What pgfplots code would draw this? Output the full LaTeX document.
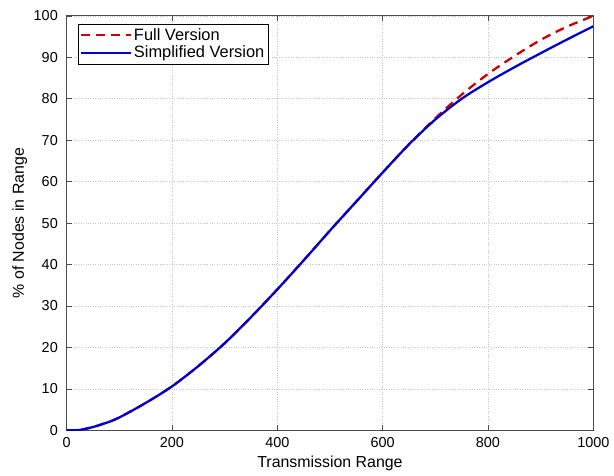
\documentclass[border=0pt]{standalone}
\usepackage{pgfplots}
\pgfplotsset{compat=1.18}
\usepackage{fontspec}
\setmainfont{Liberation Sans}
\begin{document}
\fontsize{14}{16}\selectfont
\begin{tikzpicture}
\begin{axis}[
  scale only axis,
  width=530pt, height=417pt,
  xmin=0, xmax=1000, ymin=0, ymax=100,
  xtick={0,200,...,1000}, ytick={0,10,...,100},
  /pgf/number format/assume math mode=true,
  /pgf/number format/set thousands separator={},
  ticklabel style={font=\fontsize{14.5}{16}\selectfont},
  xticklabel style={yshift=-2pt},
  yticklabel style={xshift=-4pt},
  scaled x ticks=false,
  tick align=inside,
  major tick length=5pt,
  tick style={gray!60!black, line width=0.6pt},
  axis line style={gray!60!black, line width=1pt},
  grid=major,
  grid style={dotted, gray!45, line width=0.8pt},
  xlabel={Transmission Range},
  ylabel={\% of Nodes in Range},
  label style={font=\fontsize{16}{18}\selectfont},
  xlabel style={at={(axis description cs:0.5,-0.08)}, anchor=center},
  ylabel style={at={(axis description cs:-0.089,0.5)}, anchor=center},
  legend style={font=\fontsize{16.5}{19}\selectfont, draw=black, line width=0.8pt, inner sep=2pt, at={(0.021,0.981)}, anchor=north west, cells={anchor=west}},
  legend cell align=left,
  legend image code/.code={\draw[#1] (0pt,0pt) -- (50pt,0pt);},
]
\addplot[red!80!black, line width=2.3pt, dash pattern=on 9pt off 6pt, smooth] coordinates {
(0,0) (25,0.1) (50,0.8) (75,1.8) (100,3.1) (150,6.6) (200,10.6) (250,15.5) (300,21.0) (350,27.3) (400,34.0) (450,41.0) (500,48.2) (550,55.2) (600,62.2) (650,69.0) (700,75.3) (750,81.0) (800,86.0) (850,90.3) (900,94.2) (950,97.4) (1000,100)
};
\addlegendentry{Full Version}
\addplot[blue!80!black, line width=2.3pt, smooth] coordinates {
(0,0) (25,0.1) (50,0.8) (75,1.8) (100,3.1) (150,6.6) (200,10.6) (250,15.5) (300,21.0) (350,27.3) (400,34.0) (450,41.0) (500,48.2) (550,55.2) (600,62.2) (650,69.0) (700,75.0) (750,80.0) (800,84.0) (850,87.6) (900,91.0) (950,94.3) (1000,97.5)
};
\addlegendentry{Simplified Version}
\end{axis}
\path (current axis.south west) +(-67pt,-42pt);
\path (current axis.north east) +(17pt,16pt);
\end{tikzpicture}
\end{document}
